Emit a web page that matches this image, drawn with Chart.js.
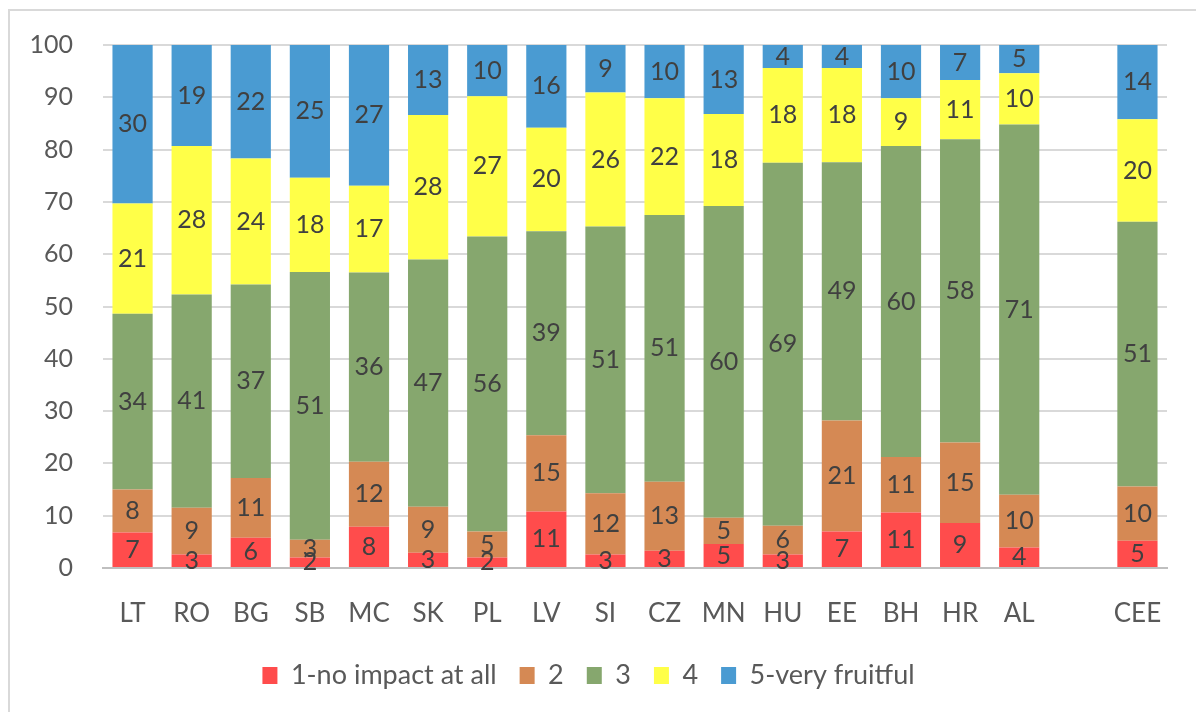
<!DOCTYPE html>
<html>
<head>
<meta charset="utf-8">
<script src="https://cdn.jsdelivr.net/npm/chart.js@4/dist/chart.umd.min.js"></script>
<style>
  body { margin: 0; background: #fff; }
  #frame { position: absolute; left: 8px; top: 9px; width: 1200px; height: 720px; border: 2px solid #d9d9d9; }
  #wrap { position: absolute; left: 0; top: 0; width: 1196px; height: 712px; }
</style>
</head>
<body>
<div id="frame"></div>
<div id="wrap"><canvas id="impactChart"></canvas></div>
<script>
const countries = ['LT', 'RO', 'BG', 'SB', 'MC', 'SK', 'PL', 'LV', 'SI', 'CZ', 'MN', 'HU', 'EE', 'BH', 'HR', 'AL', '', 'CEE'];

const noImpact = [6.8, 2.6, 5.8, 2.0, 7.9, 2.9, 2.0, 10.8, 2.6, 3.3, 4.6, 2.6, 7.0, 10.6, 8.6, 3.9, null, 5.2];
const score2 = [8.2, 8.9, 11.4, 3.4, 12.4, 8.8, 5.0, 14.6, 11.7, 13.2, 5.0, 5.5, 21.2, 10.6, 15.4, 10.1, null, 10.4];
const score3 = [33.6, 40.8, 37.0, 51.2, 36.2, 47.3, 56.4, 39.0, 51.0, 51.0, 59.6, 69.4, 49.4, 59.5, 58.0, 70.8, null, 50.6];
const score4 = [21.1, 28.4, 24.1, 18.0, 16.6, 27.6, 26.8, 19.8, 25.6, 22.3, 17.6, 18.1, 18.0, 9.1, 11.3, 9.8, null, 19.6];
const veryFruitful = [30.3, 19.3, 21.7, 25.4, 26.9, 13.4, 9.8, 15.8, 9.1, 10.2, 13.2, 4.4, 4.4, 10.2, 6.7, 5.4, null, 14.2];

const yTicks = [0, 10, 20, 30, 40, 50, 60, 70, 80, 90, 100];

const fontFamily = 'Lato, "Open Sans", sans-serif';

// values written in the middle of each segment
const segmentLabels = {
  id: 'segmentLabels',
  afterDatasetsDraw(chart) {
    const ctx = chart.ctx;
    ctx.save();
    ctx.font = '25px ' + fontFamily;
    ctx.fillStyle = '#404040';
    ctx.textAlign = 'center';
    ctx.textBaseline = 'middle';
    chart.data.datasets.forEach((ds, i) => {
      const meta = chart.getDatasetMeta(i);
      meta.data.forEach((bar, j) => {
        const v = ds.data[j];
        if (v === null) return;
        ctx.fillText(Math.round(v), bar.x, (bar.y + bar.base) / 2);
      });
    });
    ctx.restore();
  }
};

new Chart(document.getElementById('impactChart'), {
  type: 'bar',
  data: {
    labels: countries,
    datasets: [
      { label: '1-no impact at all', data: noImpact, backgroundColor: 'rgb(255, 76, 76)' },
      { label: '2', data: score2, backgroundColor: 'rgb(213, 137, 84)' },
      { label: '3', data: score3, backgroundColor: 'rgb(134, 167, 110)' },
      { label: '4', data: score4, backgroundColor: 'rgb(255, 255, 72)' },
      { label: '5-very fruitful', data: veryFruitful, backgroundColor: 'rgb(74, 155, 210)' }
    ]
  },
  options: {
    responsive: true,
    maintainAspectRatio: false,
    animation: false,
    categoryPercentage: 1,
    barPercentage: 0.68,
    layout: { padding: { top: 35, right: 29, left: 10, bottom: 13 } },
    plugins: {
      tooltip: { enabled: false },
      legend: {
        position: 'bottom',
        labels: {
          font: { family: fontFamily, size: 27 },
          color: '#595959',
          boxWidth: 15,
          boxHeight: 17,
          padding: 23
        }
      }
    },
    scales: {
      x: {
        stacked: true,
        grid: { display: false },
        border: { color: '#bfbfbf', width: 2 },
        ticks: { font: { family: fontFamily, size: 26 }, color: '#595959', padding: 22 },
        afterFit: (scale) => { scale.height = 71; }
      },
      y: {
        stacked: true,
        min: 0,
        max: 100,
        afterBuildTicks: (scale) => { scale.ticks = yTicks.map(v => ({ value: v })); },
        grid: { color: '#d9d9d9', lineWidth: 2, drawTicks: false },
        border: { display: false },
        ticks: { font: { family: fontFamily, size: 25 }, color: '#595959', padding: 30 },
        afterFit: (scale) => { scale.width = 93; }
      }
    }
  },
  plugins: [segmentLabels]
});
</script>
</body>
</html>
